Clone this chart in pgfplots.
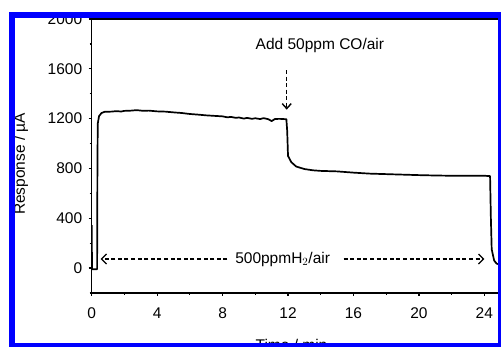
\documentclass[border=0pt]{standalone}
\usepackage{fontspec}
\setmainfont{Liberation Sans}
\usepackage{pgfplots}
\pgfplotsset{compat=1.18}
\usetikzlibrary{arrows.meta}
\begin{document}
\begin{tikzpicture}[font=\fontsize{15.5pt}{18pt}\selectfont]
\useasboundingbox (0pt,0pt) rectangle (501pt,346pt);
\begin{axis}[
  at={(91.7pt,53.1pt)}, anchor=south west,
  scale only axis, width=409pt, height=273.9pt,
  xmin=0, xmax=25, ymin=-200, ymax=2000,
  xtick={0,4,...,24}, ytick={0,400,...,2000},
  minor xtick={2,6,...,22}, minor ytick={-200,200,...,1800},
  xtick pos=left, ytick pos=left,
  tick align=outside,
  major tick length=3pt, minor tick length=2pt,
  every tick/.style={black, line width=1.2pt},
  axis line style={line width=1.4pt},
  /pgf/number format/assume math mode=true,
  /pgf/number format/set thousands separator={},
  yticklabel style={xshift=-3pt},
  xticklabel style={yshift=-8pt},
  xlabel={Time / min}, ylabel={Response / \textmu A},
  xlabel style={at={(axis description cs:0.4885,-0.167)}, anchor=north, inner sep=0pt},
  ylabel style={at={(axis description cs:-0.173,0.471)}, anchor=center, inner sep=0pt},
  clip=true,
]
\addplot[black, line width=1.7pt, line join=round] coordinates {
(0,345) (0.02,-10) (0.33,-10) (0.35,800) (0.37,1160) (0.45,1220) (0.6,1245) (0.8,1255)
(1.2,1256) (1.5,1260) (1.8,1257) (2.0,1262) (2.4,1264) (2.75,1268) (3.1,1263) (3.5,1264)
(4.0,1258) (4.5,1256) (5.0,1250) (5.5,1245) (6.0,1237) (6.5,1232) (7.0,1226) (7.5,1222)
(8.0,1218) (8.3,1210) (8.5,1214) (8.8,1206) (9.0,1209) (9.3,1200) (9.5,1206) (9.8,1198)
(10.0,1203) (10.3,1196) (10.5,1204) (10.8,1195) (11.0,1180) (11.2,1197) (11.5,1198)
(11.9,1195) (11.95,1100) (12.0,900) (12.2,850) (12.5,815) (13.0,795) (13.5,785) (14,780)
(15,776) (16,766) (17,758) (18,754) (19,750) (20,746) (21,743) (22,741) (23,741) (24,741)
(24.35,738) (24.4,400) (24.45,150) (24.6,60) (24.75,35) (25,25)
};
\draw[black, line width=1.2pt, dash pattern=on 4pt off 2.6pt, -{Straight Barb[length=5pt,width=10pt]}]
  (axis cs:8.3,72) -- (axis cs:0.55,72);
\draw[black, line width=1.2pt, dash pattern=on 4pt off 2.6pt, -{Straight Barb[length=5pt,width=10pt]}]
  (axis cs:15.4,72) -- (axis cs:24.0,72);
\node[anchor=center, inner sep=0pt] at (axis cs:11.67,72) {500ppmH$_2$/air};
\draw[black, line width=1.4pt, dash pattern=on 4pt off 2.5pt, -{Straight Barb[length=5pt,width=9pt]}]
  (axis cs:11.92,1590) -- (axis cs:11.92,1272);
\node[anchor=center, inner sep=0pt] at (axis cs:13.95,1791) {Add 50ppm CO/air};
\end{axis}
\draw[color={rgb,255:red,0;green,0;blue,255}, line width=6pt] (12.3pt,331.3pt) rectangle (501.3pt,-0.3pt);
\end{tikzpicture}
\end{document}
